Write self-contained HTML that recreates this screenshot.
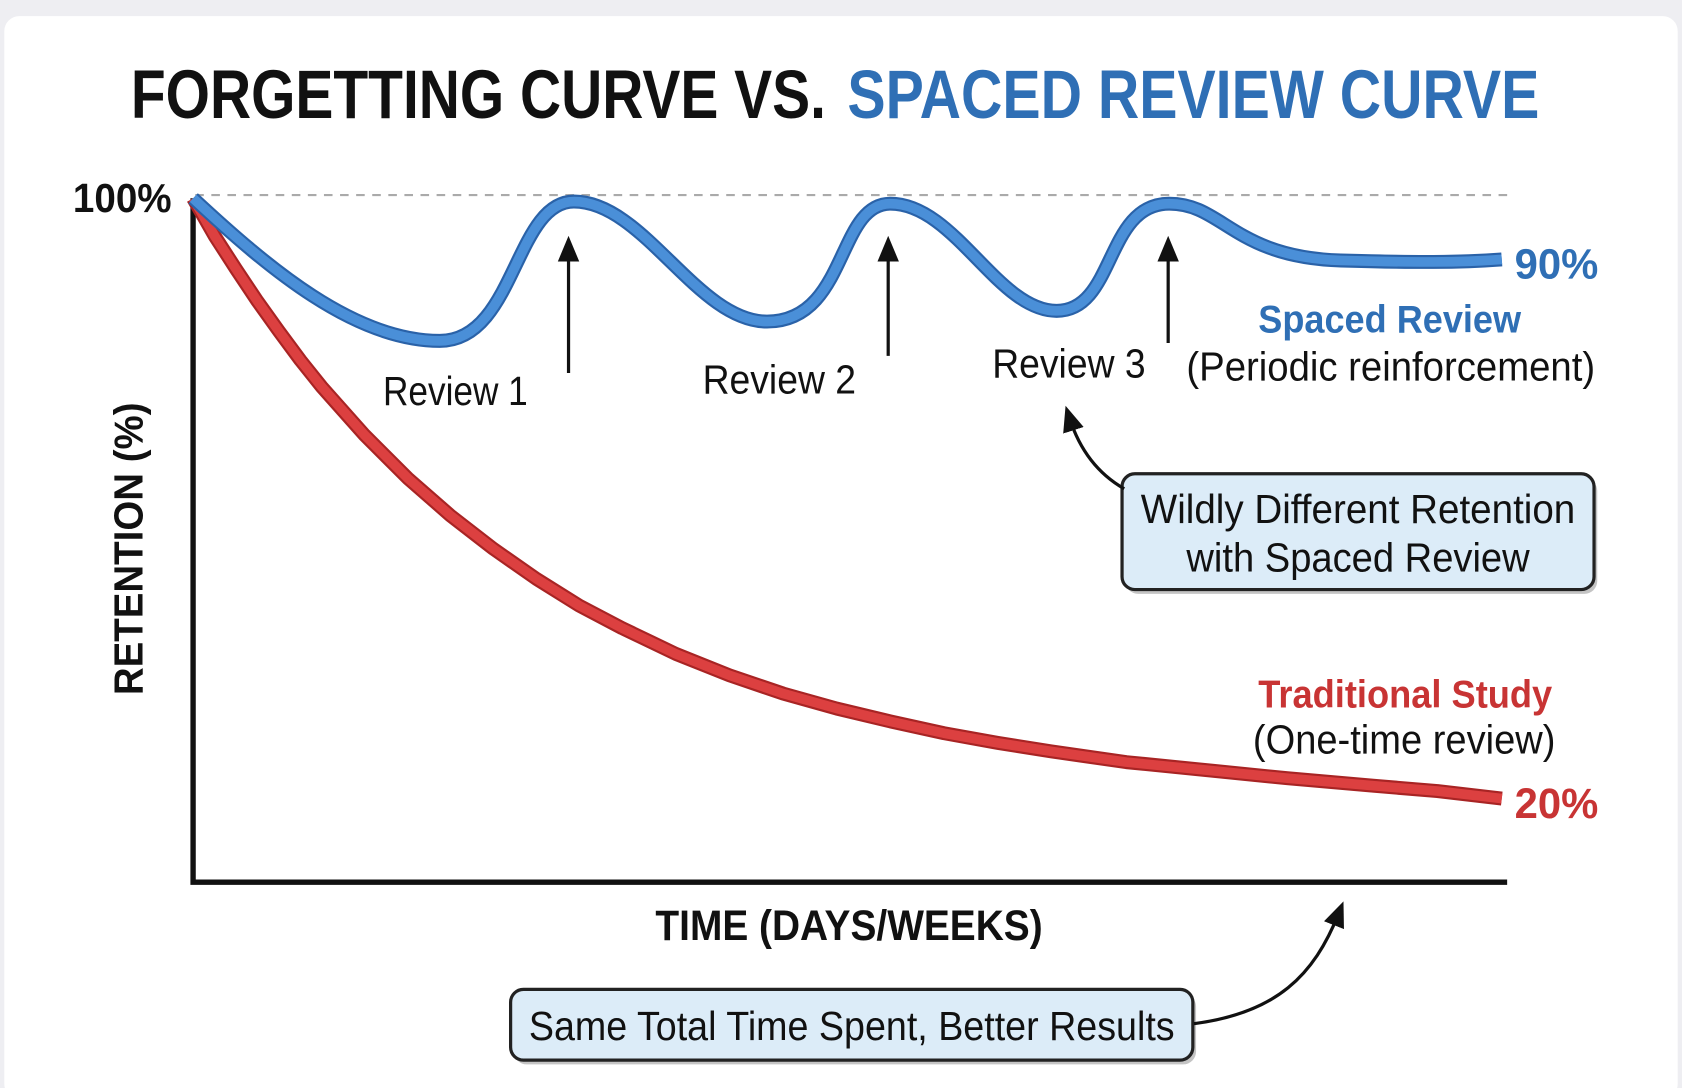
<!DOCTYPE html>
<html><head><meta charset="utf-8"><style>
html,body{margin:0;padding:0;background:#eeeef2;}
svg{display:block;}
text{font-family:"Liberation Sans Narrow","Liberation Sans",sans-serif;}
</style></head><body>
<svg width="1682" height="1088" viewBox="0 0 1568 1015" preserveAspectRatio="none" xmlns="http://www.w3.org/2000/svg">
<defs>
<marker id="ah" markerWidth="10" markerHeight="10" refX="5" refY="5" orient="auto" markerUnits="userSpaceOnUse" viewBox="0 0 10 10">
<path d="M0,0 L10,5 L0,10 Z" fill="#111"/></marker>
<marker id="ah2" markerWidth="24" markerHeight="24" refX="12" refY="12" orient="auto" markerUnits="userSpaceOnUse" viewBox="0 0 24 24">
<path d="M0,2 L24,12 L0,22 Z" fill="#111"/></marker>
</defs>
<rect x="0" y="0" width="1568" height="1015" fill="#eeeef2"/>
<rect x="4" y="15" width="1560" height="1010" rx="14" fill="#ffffff"/>
<text x="122" y="110" font-size="64" font-weight="bold" fill="#111" textLength="648" lengthAdjust="spacingAndGlyphs">FORGETTING CURVE VS.</text>
<text x="790" y="110" font-size="64" font-weight="bold" fill="#2f6fb5" textLength="645" lengthAdjust="spacingAndGlyphs">SPACED REVIEW CURVE</text>
<line x1="182" y1="182" x2="1405" y2="182" stroke="#aaa" stroke-width="2" stroke-dasharray="8,7"/>
<text x="68" y="198" font-size="38" font-weight="bold" fill="#111" textLength="92" lengthAdjust="spacingAndGlyphs">100%</text>
<path d="M180,185 L180,823 L1405,823" fill="none" stroke="#111" stroke-width="5"/>
<!-- red curve -->
<polyline fill="none" stroke="#a82424" stroke-width="13" stroke-linecap="butt" stroke-linejoin="round"
points="180,185 200,220 220,251 240,281 260,309 280,336 300,361 340,406 380,446 420,481 460,512 500,540 540,565 580,586 630,610 680,630 730,647 780,661 830,673 880,684 930,693 980,701 1050,711 1130,719 1200,726 1280,733 1340,738 1400,745"/>
<polyline fill="none" stroke="#dc4040" stroke-width="9" stroke-linejoin="round"
points="180,185 200,220 220,251 240,281 260,309 280,336 300,361 340,406 380,446 420,481 460,512 500,540 540,565 580,586 630,610 680,630 730,647 780,661 830,673 880,684 930,693 980,701 1050,711 1130,719 1200,726 1280,733 1340,738 1400,745"/>
<!-- blue curve -->
<path id="bc" d="M180,185 C250,250 330,318 410,318 C480,318 480,188 535,188 C600,188 650,300 715,300 C790,300 780,190 830,190 C890,190 930,290 985,290 C1040,290 1030,190 1090,190 C1140,190 1150,240 1250,243 C1320,245 1360,245 1400,242" fill="none" stroke="#2a62a8" stroke-width="13" stroke-linejoin="round"/>
<path d="M180,185 C250,250 330,318 410,318 C480,318 480,188 535,188 C600,188 650,300 715,300 C790,300 780,190 830,190 C890,190 930,290 985,290 C1040,290 1030,190 1090,190 C1140,190 1150,240 1250,243 C1320,245 1360,245 1400,242" fill="none" stroke="#4a8fd8" stroke-width="9" stroke-linejoin="round"/>
<!-- review arrows -->
<line x1="530" y1="348" x2="530" y2="232" stroke="#111" stroke-width="3" marker-end="url(#ah2)"/>
<line x1="828" y1="332" x2="828" y2="232" stroke="#111" stroke-width="3" marker-end="url(#ah2)"/>
<line x1="1089" y1="320" x2="1089" y2="232" stroke="#111" stroke-width="3" marker-end="url(#ah2)"/>
<text x="357" y="378" font-size="38" fill="#111" textLength="135" lengthAdjust="spacingAndGlyphs">Review 1</text>
<text x="655" y="367" font-size="38" fill="#111" textLength="143" lengthAdjust="spacingAndGlyphs">Review 2</text>
<text x="925" y="352" font-size="38" fill="#111" textLength="143" lengthAdjust="spacingAndGlyphs">Review 3</text>
<text x="1412" y="260" font-size="40" font-weight="bold" fill="#2f6fb5" textLength="78" lengthAdjust="spacingAndGlyphs">90%</text>
<text x="1173" y="310" font-size="36" font-weight="bold" fill="#2f6fb5" textLength="245" lengthAdjust="spacingAndGlyphs">Spaced Review</text>
<text x="1106" y="355" font-size="38" fill="#111" textLength="381" lengthAdjust="spacingAndGlyphs">(Periodic reinforcement)</text>
<!-- box 1 -->
<rect x="1049" y="446" width="440" height="108" rx="12" fill="#555" opacity="0.35"/>
<rect x="1046" y="442" width="440" height="108" rx="12" fill="#dcecf8" stroke="#222" stroke-width="3"/>
<text x="1266" y="488" font-size="38" fill="#111" text-anchor="middle" textLength="405" lengthAdjust="spacingAndGlyphs">Wildly Different Retention</text>
<text x="1266" y="533" font-size="38" fill="#111" text-anchor="middle" textLength="320" lengthAdjust="spacingAndGlyphs">with Spaced Review</text>
<path d="M1048,456 C1020,440 1005,415 997,390" fill="none" stroke="#111" stroke-width="3" marker-end="url(#ah2)"/>
<text x="1173" y="660" font-size="36" font-weight="bold" fill="#c83434" textLength="274" lengthAdjust="spacingAndGlyphs">Traditional Study</text>
<text x="1168" y="703" font-size="38" fill="#111" textLength="282" lengthAdjust="spacingAndGlyphs">(One-time review)</text>
<text x="1412" y="763" font-size="40" font-weight="bold" fill="#c83434" textLength="78" lengthAdjust="spacingAndGlyphs">20%</text>
<text transform="translate(133,512) rotate(-90)" font-size="38" font-weight="bold" fill="#111" text-anchor="middle" textLength="273" lengthAdjust="spacingAndGlyphs">RETENTION (%)</text>
<text x="611" y="877" font-size="40" font-weight="bold" fill="#111" textLength="361" lengthAdjust="spacingAndGlyphs">TIME (DAYS/WEEKS)</text>
<!-- box 2 -->
<rect x="479" y="927" width="636" height="66" rx="12" fill="#555" opacity="0.35"/>
<rect x="476" y="923" width="636" height="66" rx="12" fill="#dcecf8" stroke="#222" stroke-width="3"/>
<text x="493" y="970" font-size="38" fill="#111" textLength="602" lengthAdjust="spacingAndGlyphs">Same Total Time Spent, Better Results</text>
<path d="M1113,955 C1190,945 1225,910 1248,852" fill="none" stroke="#111" stroke-width="3" marker-end="url(#ah2)"/>
</svg>
</body></html>
